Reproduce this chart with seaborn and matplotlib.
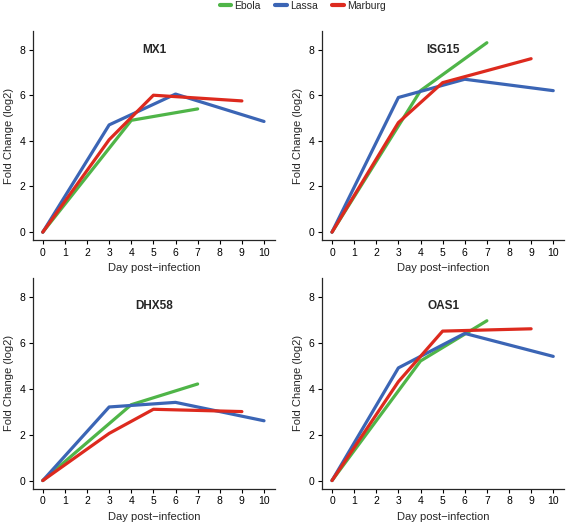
import pandas as pd
import seaborn as sns
import matplotlib.pyplot as plt
from matplotlib.lines import Line2D

# days sampled for each virus
ebola_days = [0, 4, 7]
lassa_days = [0, 3, 6, 10]
marburg_days = [0, 3, 5, 9]

genes = ['MX1', 'ISG15', 'DHX58', 'OAS1']

# fold change (log2) per gene
ebola_fc = {
    'MX1': [0, 4.9, 5.4],
    'ISG15': [0, 6.2, 8.3],
    'DHX58': [0, 3.3, 4.2],
    'OAS1': [0, 5.2, 6.95],
}
lassa_fc = {
    'MX1': [0, 4.7, 6.05, 4.85],
    'ISG15': [0, 5.9, 6.7, 6.2],
    'DHX58': [0, 3.2, 3.4, 2.6],
    'OAS1': [0, 4.9, 6.4, 5.4],
}
marburg_fc = {
    'MX1': [0, 4.05, 6.0, 5.75],
    'ISG15': [0, 4.8, 6.55, 7.6],
    'DHX58': [0, 2.05, 3.1, 3.0],
    'OAS1': [0, 4.3, 6.5, 6.6],
}

viruses = ['Ebola', 'Lassa', 'Marburg']
colors = {'Ebola': '#4fb548', 'Lassa': '#3b65b5', 'Marburg': '#dd2a1e'}

rows = []
for g in genes:
    for v, days, fc in [('Ebola', ebola_days, ebola_fc),
                        ('Lassa', lassa_days, lassa_fc),
                        ('Marburg', marburg_days, marburg_fc)]:
        for d, val in zip(days, fc[g]):
            rows.append({'Gene': g, 'Virus': v, 'Day': d, 'FC': val})
df = pd.DataFrame(rows)

sns.set_style('ticks')
plt.rcParams['font.family'] = ['Liberation Sans', 'DejaVu Sans']

fig = plt.figure(figsize=(5.66, 5.22), dpi=100)
positions = {
    'MX1': [0.058, 0.540, 0.428, 0.400],
    'ISG15': [0.569, 0.540, 0.428, 0.400],
    'DHX58': [0.058, 0.064, 0.428, 0.403],
    'OAS1': [0.569, 0.064, 0.428, 0.403],
}
title_y = {'MX1': 0.91, 'ISG15': 0.91, 'DHX58': 0.87, 'OAS1': 0.87}

for g in genes:
    ax = fig.add_axes(positions[g])
    sub = df[df['Gene'] == g]
    sns.lineplot(data=sub, x='Day', y='FC', hue='Virus', hue_order=viruses,
                 palette=colors, linewidth=2.3, legend=False, ax=ax)
    ax.set_xlim(-0.45, 10.5)
    ax.set_ylim(-0.35, 8.8)
    ax.set_xticks(range(0, 11))
    ax.set_yticks([0, 2, 4, 6, 8])
    ax.tick_params(labelsize=7.5, length=3, width=0.8, colors='black', pad=2.5)
    ax.set_xlabel('Day post\u2212infection', fontsize=8, labelpad=4)
    ax.set_ylabel('Fold Change (log2)', fontsize=8, labelpad=4)
    ax.text(0.5, title_y[g], g, transform=ax.transAxes, ha='center',
            va='center', fontsize=8.5, fontweight='bold')
    for s in ['top', 'right']:
        ax.spines[s].set_visible(False)
    for s in ['left', 'bottom']:
        ax.spines[s].set_linewidth(0.9)

handles = [Line2D([0], [0], color=colors[v], lw=3) for v in viruses]
fig.legend(handles, viruses, loc='upper center', bbox_to_anchor=(0.535, 1.017),
           ncol=3, frameon=False, fontsize=7.5, handlelength=1.1,
           handletextpad=0.3, columnspacing=1.4)

fig.savefig('out.png', dpi=100)
